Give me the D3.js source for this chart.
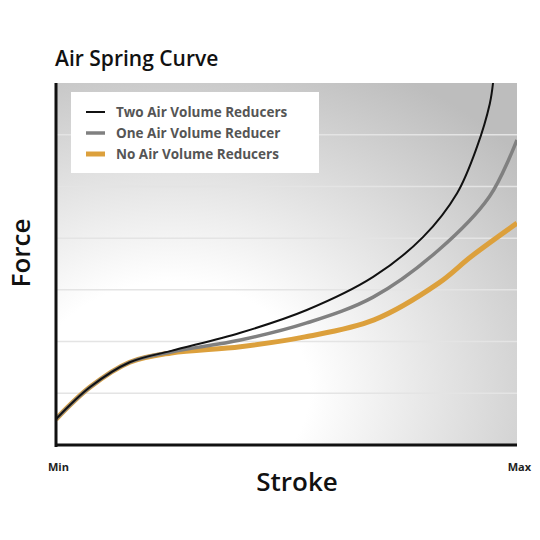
<!DOCTYPE html><html><head><script src="https://d3js.org/d3.v7.min.js"></script>
<style>body{margin:0;background:#fff}text{font-family:"Open Sans",sans-serif}</style></head><body>
<svg id="c" width="540" height="540"></svg>
<script>
const seriesNames=["Two Air Volume Reducers","One Air Volume Reducer","No Air Volume Reducers"];
const twoReducers=[[0,0.5],[7.4,1.12],[16,1.6],[25,1.82],[40,2.17],[54.4,2.61],[68.8,3.25],[79.6,4.02],[87,4.87],[91.3,5.76],[94.1,6.6],[94.8,7.0]];
const oneReducer=[[0,0.5],[7.4,1.12],[16,1.6],[25,1.8],[40,2.03],[54.4,2.36],[68.8,2.86],[83,3.77],[94,4.8],[100,5.9]];
const noReducers=[[0,0.5],[7.4,1.12],[16,1.6],[25,1.78],[40,1.9],[54,2.09],[69,2.42],[83,3.13],[90,3.64],[100,4.29]];
const gridValues=[1,2,3,4,5,6];
const colors=["#111","#808080","#dca03c"];
const widths=[2,3.5,5];
const svg=d3.select("#c");
const L=56,R=517,T=83,B=445;
const x=d3.scaleLinear().domain([0,100]).range([L,R]);
const y=d3.scaleLinear().domain([0,7]).range([B,T]);
const defs=svg.append("defs");
const g=defs.append("radialGradient").attr("id","bg").attr("cx","0.25").attr("cy","0.85").attr("r","1.0");
g.append("stop").attr("offset","0.3").attr("stop-color","#ffffff");
g.append("stop").attr("offset","1").attr("stop-color","#bdbdbd");
defs.append("clipPath").attr("id","cl").append("rect").attr("x",L).attr("y",T).attr("width",R-L).attr("height",B-T);
svg.append("rect").attr("x",L).attr("y",T).attr("width",R-L).attr("height",B-T).attr("fill","url(#bg)");
svg.selectAll(".gl").data(gridValues).join("line").attr("x1",L).attr("x2",R).attr("y1",d=>y(d)).attr("y2",d=>y(d)).attr("stroke","#e4e4e4").attr("stroke-width",1.5);
const line=d3.line().x(d=>x(d[0])).y(d=>y(d[1])).curve(d3.curveCatmullRom.alpha(0.5));
[noReducers,oneReducer,twoReducers].forEach((s,i)=>{const k=2-i;
svg.append("path").attr("d",line(s)).attr("fill","none").attr("stroke",colors[k]).attr("stroke-width",widths[k]).attr("clip-path","url(#cl)");});
svg.append("line").attr("x1",L).attr("x2",L).attr("y1",T).attr("y2",B+2).attr("stroke","#111").attr("stroke-width",3);
svg.append("line").attr("x1",L-1).attr("x2",R).attr("y1",B).attr("y2",B).attr("stroke","#111").attr("stroke-width",3);
svg.append("rect").attr("x",71).attr("y",92).attr("width",248).attr("height",81).attr("fill","#fff");
seriesNames.forEach((n,i)=>{const yy=112+i*21;
svg.append("line").attr("x1",86).attr("x2",105).attr("y1",yy).attr("y2",yy).attr("stroke",colors[i]).attr("stroke-width",widths[i]);
svg.append("text").attr("x",116).attr("y",yy+4.5).text(n).attr("font-size",13.5).attr("font-weight","bold").attr("fill","#555");});
svg.append("text").attr("x",55).attr("y",66).text("Air Spring Curve").attr("font-size",21).attr("font-weight",600).attr("fill","#111");
svg.append("text").attr("transform","translate(30,253) rotate(-90)").attr("text-anchor","middle").text("Force").attr("font-size",26).attr("font-weight",600).attr("fill","#111");
svg.append("text").attr("x",297).attr("y",491).attr("text-anchor","middle").text("Stroke").attr("font-size",26).attr("font-weight",600).attr("fill","#111");
svg.append("text").attr("x",48).attr("y",471).text("Min").attr("font-size",11).attr("font-weight","bold").attr("fill","#222");
svg.append("text").attr("x",531).attr("y",471).attr("text-anchor","end").text("Max").attr("font-size",11).attr("font-weight","bold").attr("fill","#222");
</script></body></html>
